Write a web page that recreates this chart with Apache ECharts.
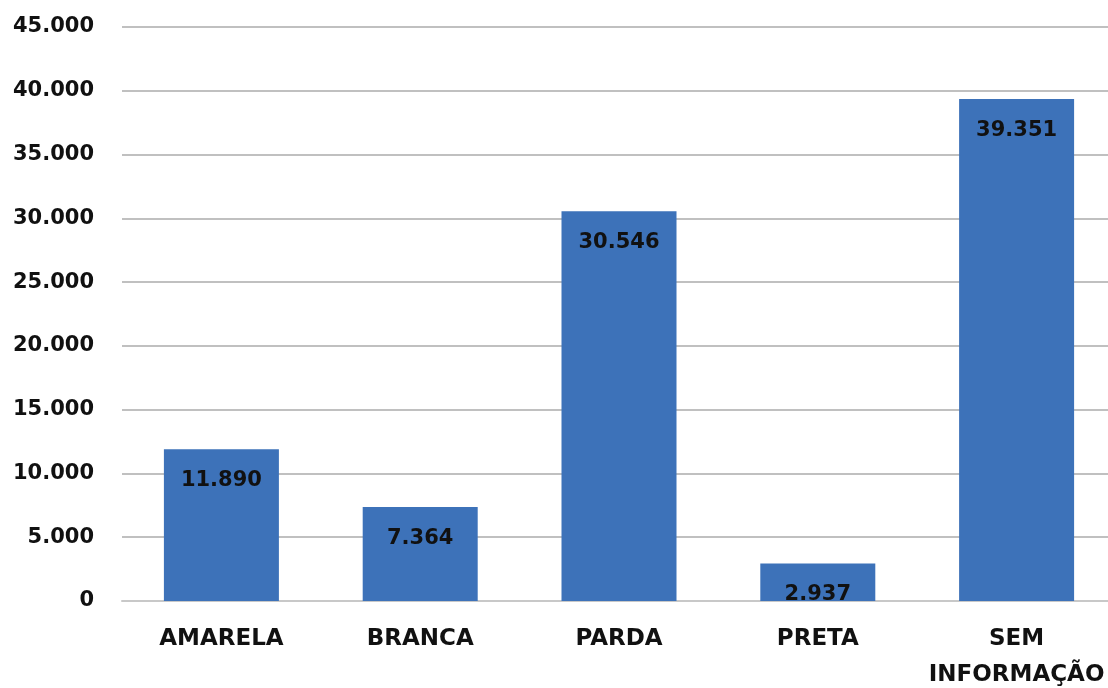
<!DOCTYPE html>
<html>
<head>
<meta charset="utf-8">
<script src="https://cdn.jsdelivr.net/npm/echarts@6/dist/echarts.min.js"></script>
<style>
html, body { margin: 0; padding: 0; background: #fff; }
#chart { width: 1108px; height: 688px; }
</style>
</head>
<body>
<div id="chart"></div>
<script>
var categories = ['AMARELA', 'BRANCA', 'PARDA', 'PRETA', 'SEM\nINFORMAÇÃO'];
var values = [11890, 7364, 30546, 2937, 39351];
var yTicks = { min: 0, max: 45000, interval: 5000 };

function fmt(v) {
	return String(v).replace(/\B(?=(\d{3})+(?!\d))/g, '.');
}

var myChart = echarts.init(document.getElementById('chart'));
myChart.setOption({
	animation: false,
	grid: {
		left: 122,
		right: -8,
		top: 27,
		bottom: 87,
		outerBoundsMode: 'none',
		containLabel: false
	},
	xAxis: {
		type: 'category',
		data: categories,
		axisLine: { lineStyle: { color: '#c8c8c8', width: 2 } },
		axisTick: { show: false },
		axisLabel: {
			margin: 20,
			color: '#111',
			fontFamily: 'DejaVu Sans',
			fontWeight: 'bold',
			fontSize: 23,
			lineHeight: 36,
			interval: 0
		}
	},
	yAxis: {
		type: 'value',
		min: yTicks.min,
		max: yTicks.max,
		interval: yTicks.interval,
		axisLine: { show: false },
		axisTick: { show: false },
		splitLine: { lineStyle: { color: '#c0c0c0', width: 2 } },
		axisLabel: {
			margin: 28,
			color: '#111',
			fontFamily: 'DejaVu Sans',
			fontWeight: 'bold',
			fontSize: 21,
			formatter: function(v) { return fmt(v); }
		}
	},
	series: [{
		type: 'bar',
		data: values,
		barWidth: 115,
		itemStyle: { color: '#3d72b9' },
		label: {
			show: true,
			position: 'insideTop',
			distance: 21,
			color: '#111',
			fontFamily: 'DejaVu Sans',
			fontWeight: 'bold',
			fontSize: 21,
			formatter: function(p) { return fmt(p.value); }
		}
	}]
});
</script>
</body>
</html>
